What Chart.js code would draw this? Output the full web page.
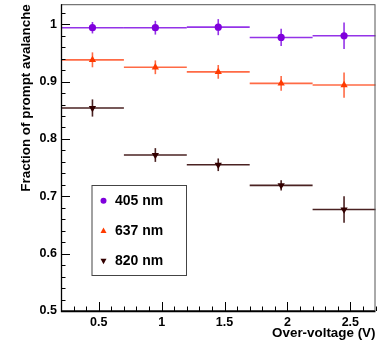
<!DOCTYPE html>
<html><head><meta charset="utf-8">
<script src="https://cdn.jsdelivr.net/npm/chart.js@4/dist/chart.umd.min.js"></script>
<style>html,body{margin:0;padding:0;background:#fff}canvas{display:block}</style>
</head><body>
<canvas id="c" width="383" height="349"></canvas>
<script>
const binEdges = [0.2, 0.7, 1.2, 1.7, 2.2, 2.7];
const binCenters = [0.45, 0.95, 1.45, 1.95, 2.45];
const labels = ['405 nm', '637 nm', '820 nm'];
const v405 = [0.994, 0.994, 0.995, 0.977, 0.980];
const e405 = [0.010, 0.012, 0.014, 0.015, 0.023];
const v637 = [0.938, 0.925, 0.917, 0.897, 0.894];
const e637 = [0.013, 0.012, 0.012, 0.013, 0.022];
const v820 = [0.854, 0.772, 0.755, 0.719, 0.677];
const e820 = [0.015, 0.012, 0.011, 0.009, 0.023];
const xTicks = [0.5, 1, 1.5, 2, 2.5];
const yTicks = [0.5, 0.6, 0.7, 0.8, 0.9, 1];
const xTitle = 'Over-voltage (V)';
const yTitle = 'Fraction of prompt avalanche';

const FONT = '"Liberation Sans", Arial, Helvetica, sans-serif';
const series = [
  {label: labels[0], v: v405, e: e405, color: '#7f00dc', line: '#9433e8', style: 'circle', r: 3.6, rot: 0},
  {label: labels[1], v: v637, e: e637, color: '#ff3a00', line: '#ff6a45', style: 'triangle', r: 4.2, rot: 0},
  {label: labels[2], v: v820, e: e820, color: '#330000', line: '#4a2222', style: 'triangle', r: 4.2, rot: 180}
];

const datasets = series.map(s => ({
  label: s.label,
  data: binCenters.map((x, i) => ({x: x, y: s.v[i]})),
  backgroundColor: s.color,
  borderColor: s.color,
  borderWidth: 0,
  pointStyle: s.style,
  pointRadius: s.r,
  pointRotation: s.rot,
  showLine: false
}));

const errPlugin = {
  id: 'errs',
  beforeDatasetsDraw(chart) {
    const ctx = chart.ctx, xs = chart.scales.x, ys = chart.scales.y;
    ctx.save();
    series.forEach(s => {
      ctx.strokeStyle = s.line;
      ctx.lineWidth = 1.6;
      binCenters.forEach((c, i) => {
        const y = ys.getPixelForValue(s.v[i]);
        const x0 = xs.getPixelForValue(binEdges[i]);
        const x1 = xs.getPixelForValue(binEdges[i + 1]);
        ctx.beginPath(); ctx.moveTo(x0, y); ctx.lineTo(x1, y); ctx.stroke();
        const xc = xs.getPixelForValue(c);
        ctx.beginPath();
        ctx.moveTo(xc, ys.getPixelForValue(s.v[i] - s.e[i]));
        ctx.lineTo(xc, ys.getPixelForValue(s.v[i] + s.e[i]));
        ctx.stroke();
      });
    });
    ctx.restore();
  },
  afterDraw(chart) {
    const ctx = chart.ctx, xs = chart.scales.x, ys = chart.scales.y;
    const a = chart.chartArea;
    ctx.save();
    // frame
    ctx.strokeStyle = '#555';
    ctx.lineWidth = 1;
    ctx.strokeRect(a.left + 0.5, a.top + 0.5, a.right - a.left - 1, a.bottom - a.top - 1);
    ctx.strokeStyle = '#000';
    ctx.lineWidth = 1.3;
    ctx.beginPath();
    ctx.moveTo(a.left + 0.5, a.top); ctx.lineTo(a.left + 0.5, a.bottom + 0.5); ctx.lineTo(a.right, a.bottom + 0.5);
    ctx.stroke();
    // ticks (inward)
    ctx.lineWidth = 1;
    ctx.strokeStyle = '#000';
    for (let k = 0; k <= 30; k++) {
      const v = +(0.2 + k * 0.1).toFixed(2);
      if (v > 2.7) break;
      const major = xTicks.some(t => Math.abs(t - v) < 1e-6);
      const px = Math.round(xs.getPixelForValue(v)) + 0.5;
      ctx.beginPath(); ctx.moveTo(px, a.bottom); ctx.lineTo(px, a.bottom - (major ? 9 : 4.5)); ctx.stroke();
    }
    for (let k = 0; k <= 30; k++) {
      const v = +(0.5 + k * 0.02).toFixed(3);
      if (v > 1.035) break;
      const major = yTicks.some(t => Math.abs(t - v) < 1e-6);
      const py = Math.round(ys.getPixelForValue(v)) + 0.5;
      ctx.beginPath(); ctx.moveTo(a.left, py); ctx.lineTo(a.left + (major ? 9 : 4.5), py); ctx.stroke();
    }
    // axis titles
    ctx.fillStyle = '#000';
    ctx.font = 'bold 13.4px ' + FONT;
    ctx.textAlign = 'right';
    ctx.textBaseline = 'alphabetic';
    ctx.fillText(xTitle, a.right, 336.5);
    ctx.save();
    ctx.translate(29.5, a.top);
    ctx.rotate(-Math.PI / 2);
    ctx.textAlign = 'right';
    ctx.fillText(yTitle, 0, 0);
    ctx.restore();
    // legend
    const lx = 91.5, ly = 185, lw = 94.5, lh = 90;
    ctx.fillStyle = '#fff';
    ctx.fillRect(lx, ly, lw, lh);
    ctx.strokeStyle = '#444';
    ctx.lineWidth = 1;
    ctx.strokeRect(lx + 0.5, ly + 0.5, lw, lh);
    const rowsY = [200.7, 230.7, 261];
    series.forEach((s, i) => {
      const y = rowsY[i];
      ctx.save();
      ctx.fillStyle = s.color;
      ctx.translate(103.5, y);
      ctx.beginPath();
      if (s.style === 'circle') {
        ctx.arc(0, 0, 3, 0, Math.PI * 2);
      } else {
        ctx.rotate(s.rot * Math.PI / 180);
        ctx.moveTo(0, -3.3); ctx.lineTo(3, 2.3); ctx.lineTo(-3, 2.3); ctx.closePath();
      }
      ctx.fill();
      ctx.restore();
      ctx.fillStyle = '#000';
      ctx.font = 'bold 14px ' + FONT;
      ctx.textAlign = 'left';
      ctx.textBaseline = 'middle';
      ctx.fillText(s.label, 115, y + 0.5);
    });
    ctx.restore();
  }
};

new Chart(document.getElementById('c'), {
  type: 'scatter',
  data: {datasets},
  options: {
    responsive: false,
    animation: false,
    devicePixelRatio: 1,
    layout: {padding: {left: 0, right: 7.5, top: 3, bottom: 0}},
    plugins: {legend: {display: false}, tooltip: {enabled: false}},
    scales: {
      x: {
        type: 'linear', min: 0.2, max: 2.7,
        afterBuildTicks: s => { s.ticks = xTicks.map(v => ({value: v})); },
        afterFit: s => { s.height = 38; s.paddingLeft = 0; s.paddingRight = 0; },
        grid: {display: false, drawTicks: false},
        border: {display: false},
        ticks: {color: '#000', padding: 4, maxRotation: 0, autoSkip: false, font: {family: FONT, size: 12.5, weight: 'bold'},
                callback: v => String(v)}
      },
      y: {
        type: 'linear', min: 0.5, max: 1.035,
        afterBuildTicks: s => { s.ticks = yTicks.map(v => ({value: v})); },
        afterFit: s => { s.width = 61; s.paddingTop = 0; s.paddingBottom = 0; },
        grid: {display: false, drawTicks: false},
        border: {display: false},
        ticks: {color: '#000', padding: 4, autoSkip: false, font: {family: FONT, size: 12.5, weight: 'bold'},
                callback: v => String(v)}
      }
    }
  },
  plugins: [errPlugin]
});
</script>
</body></html>
